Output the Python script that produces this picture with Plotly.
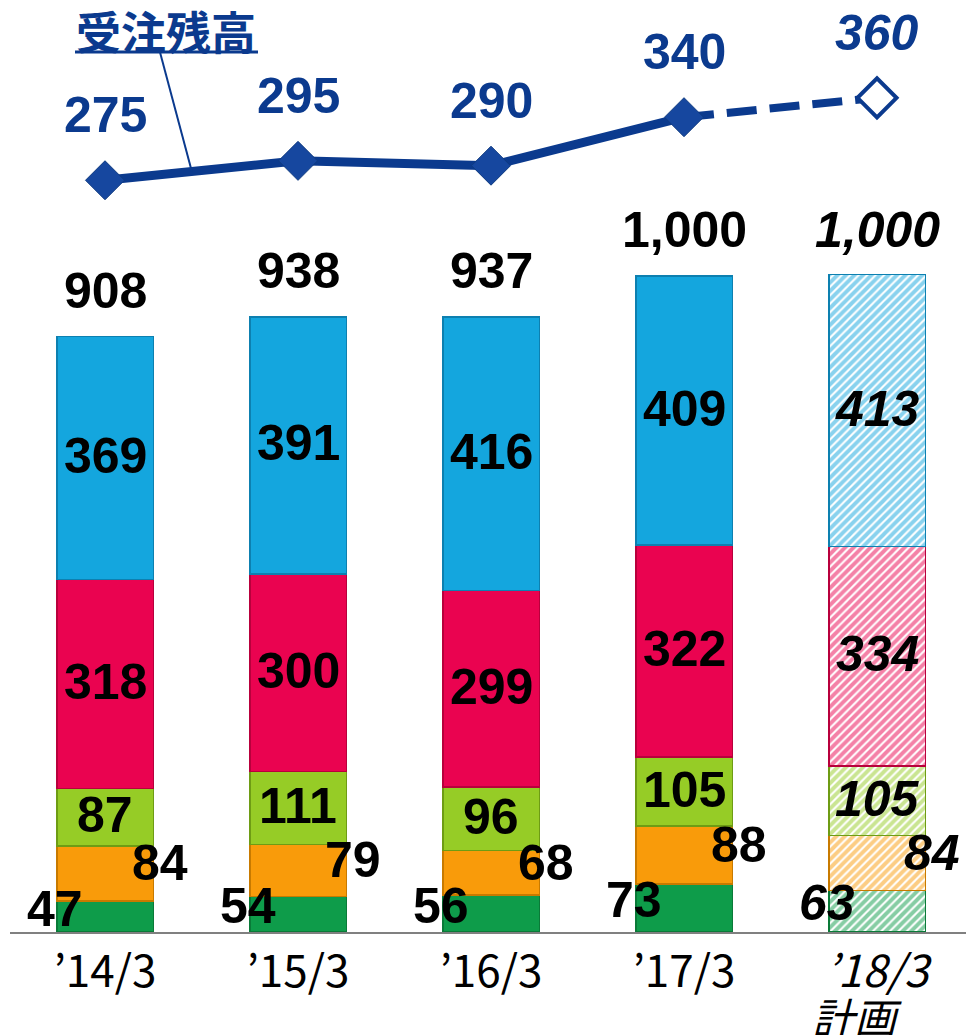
import plotly.graph_objects as go

categories = ["’14/3", "’15/3", "’16/3", "’17/3", "’18/3"]
plan_note = "計画"
seg_green = [47, 54, 56, 73, 63]
seg_orange = [84, 79, 68, 88, 84]
seg_lime = [87, 111, 96, 105, 105]
seg_red = [318, 300, 299, 322, 334]
seg_blue = [369, 391, 416, 409, 413]
totals = [908, 938, 937, 1000, 1000]
backlog = [275, 295, 290, 340, 360]
is_plan = [False, False, False, False, True]

series = [
    (seg_green, "#0E9C4A", "#0A7A38"),
    (seg_orange, "#F99B0A", "#C87A00"),
    (seg_lime, "#96CC26", "#6E9C14"),
    (seg_red, "#EA0350", "#B8003C"),
    (seg_blue, "#14A6DE", "#0D80B0"),
]

x = list(range(len(categories)))
NAVY = "#0B3A8E"
NUMFONT = "Liberation Sans"
TICKFONT = "Noto Sans CJK JP"

# page has an 8px body margin; plot area spans page x 10..974, page y 8..932
PT, PB, PL, PR = 8, 932, 10, 974
def py(p):
    return (PB - p) / (PB - PT)
def px(p):
    return (p - PL) / (PR - PL)

fig = go.Figure()

for vals, col, edge in series:
    shapes_ = ["/" if p else "" for p in is_plan]
    fig.add_trace(go.Bar(
        x=x, y=vals, width=0.5,
        marker=dict(
            color=col,
            line=dict(color=edge, width=1.5),
            pattern=dict(shape=shapes_, fgcolor=col, bgcolor="white",
                         size=6, solidity=0.65, fillmode="overlay"),
        ),
        hoverinfo="skip", showlegend=False,
    ))

fig.add_trace(go.Scatter(
    x=x[:4], y=backlog[:4], yaxis="y2", mode="lines",
    line=dict(color=NAVY, width=9), showlegend=False, hoverinfo="skip"))
fig.add_trace(go.Scatter(
    x=x[3:], y=backlog[3:], yaxis="y2", mode="lines",
    line=dict(color=NAVY, width=8, dash="30px,13px"), showlegend=False, hoverinfo="skip"))
fig.add_trace(go.Scatter(
    x=x, y=backlog, yaxis="y2", mode="markers",
    marker=dict(symbol="diamond", size=30,
                color=["white" if p else "#16479F" for p in is_plan],
                line=dict(color=["#0B3A8E" if p else "#0E3A80" for p in is_plan],
                          width=[4 if p else 1 for p in is_plan])),
    showlegend=False, hoverinfo="skip"))

ann = []
def fmt(v):
    return f"{v:,}"

for i in x:
    it = is_plan[i]
    def t(s):
        return f"<i>{s}</i>" if it else s
    base = 0
    mids = []
    for vals, _, _ in series:
        mids.append(base + vals[i] / 2)
        base += vals[i]
    ann.append(dict(x=i, y=mids[0], xref="x", yref="y", text=t(fmt(seg_green[i])),
                    xshift=-50, yshift=8, showarrow=False,
                    font=dict(family=NUMFONT, size=50, color="black", weight="bold")))
    ann.append(dict(x=i, y=mids[1], xref="x", yref="y", text=t(fmt(seg_orange[i])),
                    xshift=55, yshift=10, showarrow=False,
                    font=dict(family=NUMFONT, size=50, color="black", weight="bold")))
    for k, vals in ((2, seg_lime), (3, seg_red), (4, seg_blue)):
        ann.append(dict(x=i, y=mids[k], xref="x", yref="y", text=t(fmt(vals[i])),
                        showarrow=False, yshift=2,
                        font=dict(family=NUMFONT, size=50, color="black", weight="bold")))
    ann.append(dict(x=i, y=totals[i], xref="x", yref="y", text=t(fmt(totals[i])),
                    showarrow=False, yshift=44,
                    font=dict(family=NUMFONT, size=50, color="black", weight="bold")))
    ann.append(dict(x=i, y=backlog[i], xref="x", yref="y2", text=t(fmt(backlog[i])),
                    showarrow=False, yshift=65,
                    font=dict(family=NUMFONT, size=50, color=NAVY, weight="bold")))
    if it:
        ann.append(dict(x=i, y=py(1016), xref="x", yref="paper", text=f"<i>{plan_note}</i>",
                        xshift=-20, showarrow=False, yanchor="middle",
                        font=dict(family=TICKFONT, size=42, color="black")))

ann.append(dict(x=px(166), y=py(30), xref="paper", yref="paper", text="<b>受注残高</b>",
                xanchor="center", yanchor="middle", showarrow=False,
                font=dict(family="Noto Sans CJK JP", size=45, color=NAVY)))

shapes = [
    dict(type="line", xref="paper", yref="paper", x0=px(75), x1=px(258),
         y0=py(52), y1=py(52), line=dict(color=NAVY, width=3)),
    dict(type="line", xref="x", yref="y2", x0=0.285, y0=407, x1=0.45, y1=284,
         line=dict(color=NAVY, width=2)),
]

xr0 = -(105 - PL) / 193
xr1 = xr0 + (PR - PL) / 193

fig.update_layout(
    width=966, height=1027,
    margin=dict(l=2, r=0, t=0, b=1027 - (PB - PT)),
    barmode="stack",
    paper_bgcolor="white", plot_bgcolor="white",
    xaxis=dict(range=[xr0, xr1], tickmode="array", tickvals=x,
               ticktext=[f"<i>{c}</i>" if p else c for c, p in zip(categories, is_plan)],
               showline=True, linecolor="#808080", linewidth=2, ticks="",
               showgrid=False, zeroline=False, ticklabelstandoff=0, automargin=False,
               tickfont=dict(family=TICKFONT, size=44, color="black")),
    yaxis=dict(range=[0, (PB - PT) / 0.658], visible=False, showgrid=False),
    yaxis2=dict(range=[-500, -500 + (PB - PT) / 0.97], overlaying="y", visible=False,
                showgrid=False),
    annotations=ann,
    shapes=shapes,
    font=dict(family=NUMFONT),
)

fig.write_html("out.html")
